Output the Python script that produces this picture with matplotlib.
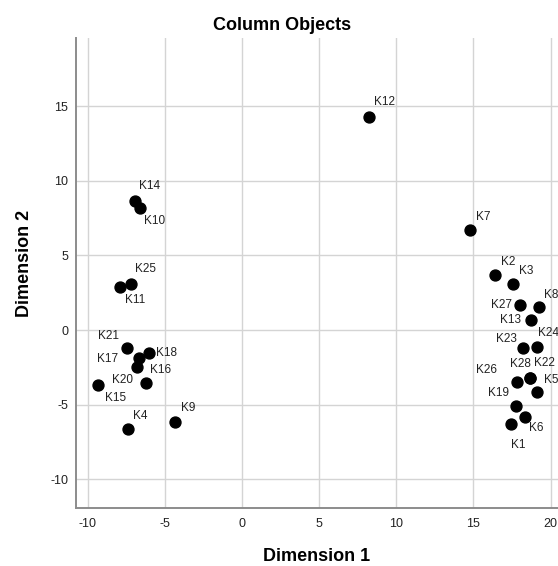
import matplotlib
matplotlib.use('Agg')
import matplotlib.pyplot as plt

plt.rcParams['font.family'] = ['Liberation Sans', 'DejaVu Sans']
plt.rcParams['axes.unicode_minus'] = False

# column object coordinates (Dimension 1, Dimension 2)
labels = ['K1', 'K2', 'K3', 'K4', 'K5', 'K6', 'K7', 'K8', 'K9', 'K10',
          'K11', 'K12', 'K13', 'K14', 'K15', 'K16', 'K17', 'K18', 'K19', 'K20',
          'K21', 'K22', 'K23', 'K24', 'K25', 'K26', 'K27', 'K28']
dim1 = [17.41, 16.42, 17.59, -7.37, 19.14, 18.32, 14.78, 19.27, -4.32, -6.61,
        -7.91, 8.25, 18.71, -6.93, -9.31, -6.78, -6.70, -6.01, 17.76, -6.22,
        -7.43, 18.66, 18.23, 19.14, -7.21, 17.80, 18.02, 18.66]
dim2 = [-6.32, 3.70, 3.08, -6.65, -4.15, -5.85, 6.68, 1.56, -6.14, 8.17,
        2.86, 14.29, 0.67, 8.66, -3.68, -2.50, -1.90, -1.56, -5.09, -3.57,
        -1.23, -3.19, -1.23, -1.16, 3.08, -3.46, 1.67, -3.19]

xticks = [-10, -5, 0, 5, 10, 15, 20]
yticks = [-10, -5, 0, 5, 10, 15]

# label placement around each point, in pixels (right, down)
label_offsets = {
    'K1': (8, 21), 'K2': (13, -13), 'K3': (13, -13), 'K4': (12, -13),
    'K5': (14, -12), 'K6': (12, 11), 'K7': (13, -13), 'K8': (12, -12),
    'K9': (13, -14), 'K10': (15, 13), 'K11': (15, 13), 'K12': (15, -15),
    'K13': (-20, 0), 'K14': (14, -15), 'K15': (17, 13), 'K16': (23, 3),
    'K17': (-31, 1), 'K18': (17, 0), 'K19': (-18, -13), 'K20': (-24, -3),
    'K21': (-19, -12), 'K22': (15, -15), 'K23': (-17, -9), 'K24': (11, -14),
    'K25': (15, -15), 'K26': (-30, -12), 'K27': (-19, 0), 'K28': (-9, -14),
}

W, H = 558, 566
fig = plt.figure(figsize=(W / 100, H / 100), dpi=100)
ax = fig.add_axes([75.7 / W, 1 - 508 / H, 1 - 75.7 / W, (508 - 38.3) / H])

ax.scatter(dim1, dim2, s=62, color='black', zorder=3, clip_on=False)
for lab, x, y in zip(labels, dim1, dim2):
    dx, dy = label_offsets[lab]
    ax.annotate(lab, (x, y), xytext=(dx, -dy), textcoords='offset pixels',
                ha='center', va='center', fontsize=8.5, color='#222222',
                annotation_clip=False)

ax.set_xlim(-10.78, 20.48)
ax.set_ylim(-11.92, 19.54)
ax.set_xticks(xticks)
ax.set_yticks(yticks)
ax.grid(True, color='#d4d4d4', linewidth=1.0)
ax.set_axisbelow(True)
ax.tick_params(length=0, labelsize=9, colors='#222222')
ax.tick_params(axis='x', pad=7)
ax.tick_params(axis='y', pad=5.5)
for side in ['top', 'right']:
    ax.spines[side].set_visible(False)
for side in ['left', 'bottom']:
    ax.spines[side].set_color('#8c8c8c')
    ax.spines[side].set_linewidth(1.4)

fig.text(282 / W, 1 - 25 / H, 'Column Objects', ha='center', va='center',
         fontsize=13, fontweight='bold')
fig.text(317 / W, 1 - 556.7 / H, 'Dimension 1', ha='center', va='center',
         fontsize=13, fontweight='bold')
fig.text(25 / W, 1 - 263 / H, 'Dimension 2', ha='center', va='center',
         fontsize=13, fontweight='bold', rotation=90)

fig.savefig('out.png', dpi=100, facecolor='white')
